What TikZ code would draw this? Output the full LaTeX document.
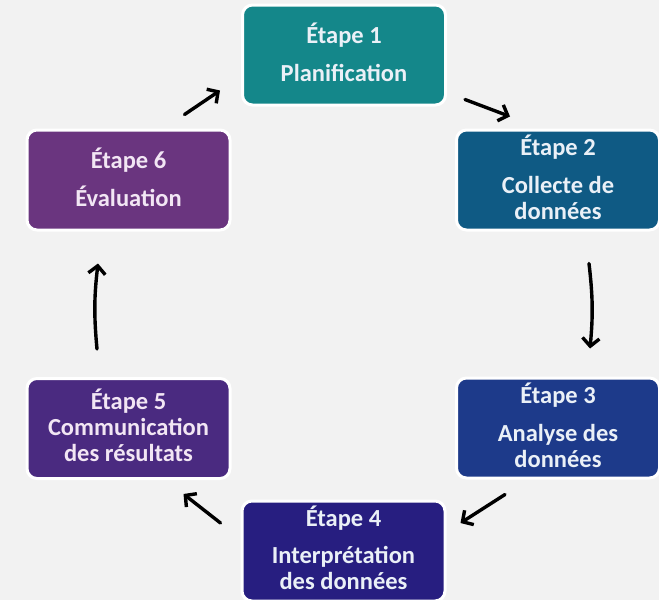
\documentclass[tikz,border=0pt]{standalone}
\usepackage{fontspec}
\setmainfont{Carlito}
\usetikzlibrary{arrows.meta,calc}
\definecolor{bg}{HTML}{F2F2F2}
\definecolor{txt}{HTML}{EAF0F7}
\definecolor{txtp}{HTML}{F2E6F4}
\definecolor{c1}{HTML}{14878A}
\definecolor{c2}{HTML}{0F5A84}
\definecolor{c3}{HTML}{1D3A8A}
\definecolor{c4}{HTML}{271E80}
\definecolor{c5}{HTML}{4A2A80}
\definecolor{c6}{HTML}{6A357F}
\newcommand\lowstrut{\rule[-6pt]{0pt}{0pt}}
\begin{document}
\begin{tikzpicture}[x=1pt,y=-1pt,
  stepbox/.style={draw=white, line width=3pt, rounded corners=10pt,
    minimum width=203pt, minimum height=100pt, inner sep=0pt,
    text=txt, align=center,
    font=\fontsize{24.5}{26}\selectfont\bfseries},
  flow/.style={-{Straight Barb[length=8pt,width=17pt]}, line width=3.4pt,
    black, line cap=round}]
\fill[bg] (0,0) rectangle (659,600);
\useasboundingbox (0,0) rectangle (659,600);

\node[stepbox, fill=c1] (b1) at (344,55) {Étape 1\\[12pt]Planification\lowstrut};
\node[stepbox, fill=c2] (b2) at (558,180) {Étape 2\\[12pt]Collecte de\\données\lowstrut};
\node[stepbox, fill=c3] (b3) at (558,428) {Étape 3\\[12pt]Analyse des\\données\lowstrut};
\node[stepbox, fill=c4] (b4) at (343.5,551) {Étape 4\\[11pt]Interprétation\\des données\lowstrut};
\node[stepbox, fill=c5, text=txtp] (b5) at (128.5,428.5) {Étape 5\\Communication\\des résultats\lowstrut};
\node[stepbox, fill=c6, text=txtp] (b6) at (128.5,180) {Étape 6\\[12pt]Évaluation\lowstrut};

\coordinate (t61) at ($(b6.north east)+(-47,-14)$);
\coordinate (h61) at ($(b1.south west)+(-21,-16)$);
\coordinate (t12) at ($(b1.south east)+(18,-7)$);
\coordinate (h12) at ($(b2.north west)+(55,-12)$);
\coordinate (t23) at ($(b2.south)+(31,32)$);
\coordinate (h23) at ($(b3.north)+(32,-28)$);
\coordinate (t34) at ($(b3.south west)+(50,15)$);
\coordinate (h34) at ($(b4.east)+(14,-28)$);
\coordinate (t45) at ($(b4.west)+(-20,-28)$);
\coordinate (h45) at ($(b5.south east)+(-48,14)$);
\coordinate (t56) at ($(b5.north)+(-31.5,-28)$);
\coordinate (h56) at ($(b6.south)+(-30.5,32)$);

\draw[flow] (t61) -- (h61);
\draw[flow] (t12) -- (h12);
\draw[flow] (t23) to[bend left=6] (h23);
\draw[flow] (t34) -- (h34);
\draw[flow] (t45) -- (h45);
\draw[flow] (t56) to[bend left=6] (h56);
\end{tikzpicture}
\end{document}
